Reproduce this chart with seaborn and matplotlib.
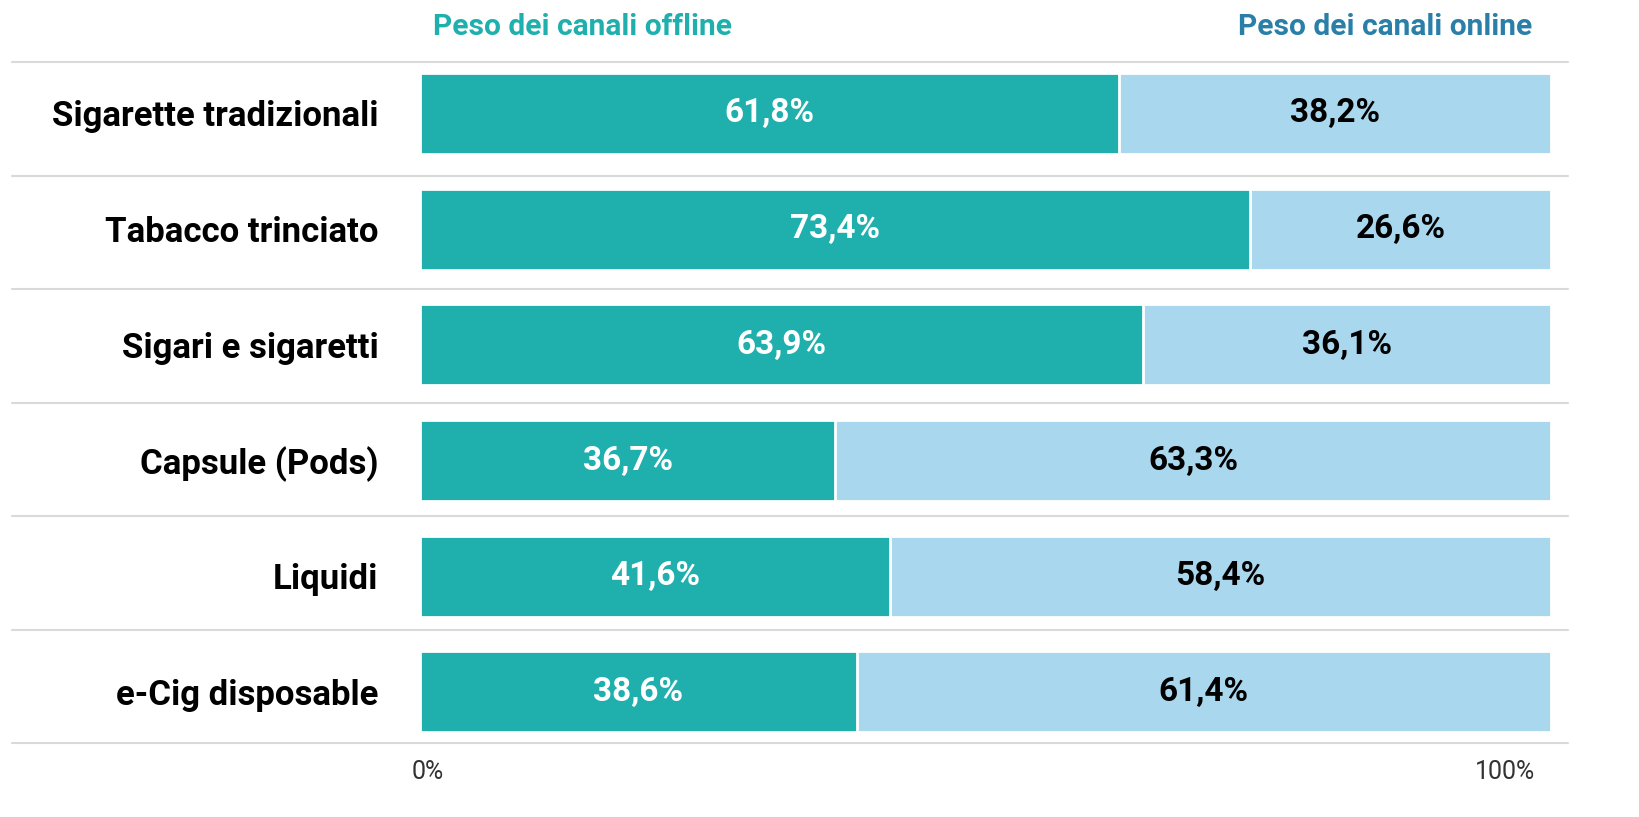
import matplotlib
matplotlib.use("Agg")
import matplotlib.pyplot as plt
import matplotlib.transforms as mtransforms
import seaborn as sns
import pandas as pd

categories = ["Sigarette tradizionali", "Tabacco trinciato", "Sigari e sigaretti",
              "Capsule (Pods)", "Liquidi", "e-Cig disposable"]
offline = [61.8, 73.4, 63.9, 36.7, 41.6, 38.6]
online = [38.2, 26.6, 36.1, 63.3, 58.4, 61.4]
tick_values = [0, 100]
tick_labels = ["0%", "100%"]
header_offline = "Peso dei canali offline"
header_online = "Peso dei canali online"

C_OFF = "#1fb0ae"
C_ON = "#a9d7ee"
C_HEAD_ON = "#2a7fa8"

sns.set_theme(style="white")
plt.rcParams["font.family"] = ["Roboto", "DejaVu Sans"]

df = pd.DataFrame({"cat": categories, "offline": offline, "online": online})
df["total"] = df["offline"] + df["online"]

fig = plt.figure(figsize=(16.4, 8.17), dpi=100)
ax = fig.add_axes([420 / 1640, 1 - 743 / 817, 1131 / 1640, (743 - 62) / 817])

sns.barplot(data=df, y="cat", x="total", color=C_ON, orient="h", width=0.70,
            edgecolor="white", linewidth=2, saturation=1, ax=ax)
sns.barplot(data=df, y="cat", x="offline", color=C_OFF, orient="h", width=0.70,
            edgecolor="white", linewidth=2, saturation=1, ax=ax)

ax.set_xlim(0, 100)
ax.set_ylim(len(categories) - 1 + 0.441, -0.445)
for s in ax.spines.values():
    s.set_visible(False)
ax.set_xlabel("")
ax.set_ylabel("")

# row separators (evenly spaced across the axes height)
n = len(categories)
for i in range(n + 1):
    ax.plot([-0.361, 1.015], [i / n, i / n], transform=ax.transAxes,
            color="#d9d9d9", lw=1.5, clip_on=False, zorder=0)

# category labels
ax.set_yticks(range(len(categories)))
ax.set_yticklabels(categories, fontsize=25, fontweight="bold", color="black")
ax.tick_params(axis="y", length=0, pad=30)

# x ticks
ax.set_xticks(tick_values)
ax.set_xticklabels(tick_labels, fontsize=18, fontweight="normal", color="#333333")
ax.tick_params(axis="x", length=0, pad=12)
xl = ax.get_xticklabels()
xl[0].set_horizontalalignment("left")
xl[0].set_transform(xl[0].get_transform() + mtransforms.ScaledTranslation(-8 / 100, 0, fig.dpi_scale_trans))
xl[1].set_horizontalalignment("right")
xl[1].set_transform(xl[1].get_transform() + mtransforms.ScaledTranslation(-16 / 100, 0, fig.dpi_scale_trans))

# value labels
for i, (off, on) in enumerate(zip(offline, online)):
    ax.text(off / 2, i, f"{off:.1f}%".replace(".", ","), ha="center", va="center",
            color="white", fontsize=24, fontweight="bold")
    ax.text(off + on / 2, i, f"{on:.1f}%".replace(".", ","), ha="center", va="center",
            color="black", fontsize=24, fontweight="bold")

fig.text(433 / 1640, 1 - 27 / 817, header_offline, ha="left", va="center",
         color=C_OFF, fontsize=21.5, fontweight="bold")
fig.text(1532 / 1640, 1 - 27 / 817, header_online, ha="right", va="center",
         color=C_HEAD_ON, fontsize=21.5, fontweight="bold")

fig.savefig("out.png", dpi=100, facecolor="white")
